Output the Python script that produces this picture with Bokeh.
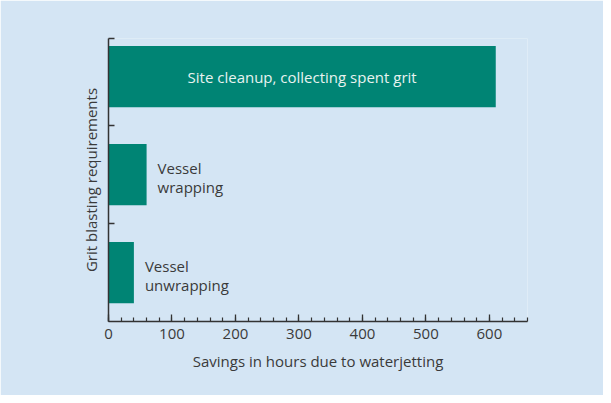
from bokeh.plotting import figure
from bokeh.models import ColumnDataSource, FixedTicker, SingleIntervalTicker, CustomJSTickFormatter, Range1d
from bokeh.core.properties import value
from bokeh.embed import file_html
from bokeh.resources import INLINE

# Data
categories = ["Site cleanup, collecting spent grit", "Vessel\nwrapping", "Vessel\nunwrapping"]
savings_hours = [610, 60, 40]
positions = [2.5, 1.5, 0.5]
x_tick_labels = ["0", "100", "200", "300", "400", "500", "600"]

BG = "#D4E5F4"
BAR = "#008474"
TXT = "#3a3a3a"
FONT = "Open Sans"
FS = "15px"

p = figure(width=603, height=395, output_backend="svg", toolbar_location=None,
           x_range=Range1d(0, 660), y_range=Range1d(0, 2.89))
p.background_fill_color = BG
p.border_fill_color = BG
p.outline_line_color = None
p.grid.visible = False
p.min_border_left = 108
p.min_border_top = 38
p.min_border_right = 76
p.min_border_bottom = 74

src = ColumnDataSource(dict(y=positions, right=savings_hours, label=categories,
                            mid=[v / 2 for v in savings_hours]))
p.hbar(y="y", left=0, right="right", height=0.625, source=src, color=BAR, line_color=None)

# in-bar label for the long bar, beside-bar labels for the short ones
inside = ColumnDataSource(dict(x=[src.data["mid"][0]], y=[positions[0]], t=[categories[0]]))
p.text(x="x", y="y", text="t", source=inside, text_align="center", text_baseline="middle",
       text_color="#E8F3F0", text_font=value(FONT), text_font_size=FS)
beside = ColumnDataSource(dict(x=savings_hours[1:], y=positions[1:], t=categories[1:]))
p.text(x="x", y="y", text="t", source=beside, text_align="left", text_baseline="middle",
       x_offset=11, y_offset=3, text_color=TXT, text_font=value(FONT), text_font_size=FS,
       text_line_height=0.95)

# x axis
xa = p.xaxis[0]
xa.ticker = SingleIntervalTicker(interval=100, num_minor_ticks=5)
xa.major_label_overrides = {i * 100: lab for i, lab in enumerate(x_tick_labels)}
xa.axis_label = "Savings in hours due to waterjetting"
xa.axis_label_text_font = FONT
xa.axis_label_text_font_style = "normal"
xa.axis_label_text_font_size = FS
xa.axis_label_text_color = TXT
xa.axis_label_standoff = 9
xa.major_label_text_font = FONT
xa.major_label_text_font_size = FS
xa.major_label_text_color = TXT
xa.major_label_standoff = 7
xa.major_tick_in = 7
xa.major_tick_out = 0
xa.minor_tick_in = 4
xa.minor_tick_out = 0
xa.axis_line_color = "#333333"
xa.axis_line_width = 1.5
xa.major_tick_line_color = "#333333"
xa.major_tick_line_width = 1.3
xa.minor_tick_line_color = "#333333"
xa.minor_tick_line_width = 1.2

# y axis
ya = p.yaxis[0]
ya.ticker = FixedTicker(ticks=[1, 2, 2.889])
ya.formatter = CustomJSTickFormatter(code="return ''")
ya.axis_label = "Grit blasting requirements"
ya.axis_label_text_font = FONT
ya.axis_label_text_font_style = "normal"
ya.axis_label_text_font_size = FS
ya.axis_label_text_color = TXT
ya.axis_label_standoff = 8
ya.major_label_standoff = 0
ya.major_tick_in = 6
ya.major_tick_out = 0
ya.minor_tick_line_color = None
ya.axis_line_color = "#333333"
ya.axis_line_width = 1.5
ya.major_tick_line_color = "#333333"
ya.major_tick_line_width = 1.3

open("out.html", "w").write(file_html(p, INLINE))
